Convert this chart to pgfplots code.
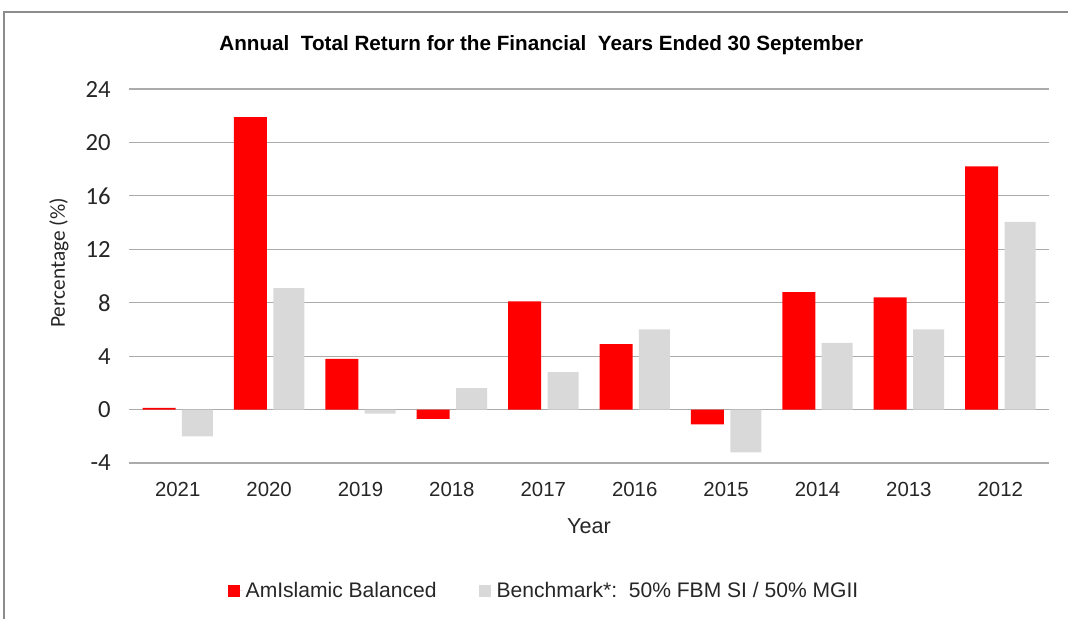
\documentclass[border=0pt]{standalone}
\usepackage{pgfplots}
\pgfplotsset{compat=1.18}
\usepackage{fontspec}
\setmainfont{Liberation Sans}
\newfontfamily\carlito{Carlito}
\definecolor{barred}{HTML}{FF0000}
\definecolor{bargray}{HTML}{D9D9D9}
\definecolor{gridgray}{HTML}{ABABAB}
\definecolor{framegray}{HTML}{8C8C8C}
\begin{document}
\begin{tikzpicture}
\path[use as bounding box] (0pt,0pt) rectangle (801pt,464.25pt);
\draw[framegray, line width=0.8pt] (3pt,0pt) -- (3pt,455.25pt) -- (801pt,455.25pt);
\begin{axis}[
  at={(99pt,117pt)}, anchor=south west,
  scale only axis, width=685.5pt, height=280.5pt,
  xmin=-0.5, xmax=9.5, ymin=-4, ymax=24,
  ytick={-4,0,4,8,12,16,20,24},
  xtick={0,1,2,3,4,5,6,7,8,9},
  xticklabels={2021,2020,2019,2018,2017,2016,2015,2014,2013,2012},
  axis line style={draw=none},
  ymajorgrids, grid style={gridgray, line width=0.9pt},
  x tick style={draw=none},
  y tick style={gridgray, line width=0.9pt},
  tick align=outside, major tick length=2pt,
  /pgf/number format/assume math mode=true,
  yticklabel style={font=\carlito\fontsize{18.5}{21}\selectfont, text=black!85, xshift=-10.5pt},
  xticklabel style={font=\fontsize{15.3}{18}\selectfont, text=black!85, yshift=-9pt},
  ybar=0pt,
  legend style={draw=none, at={(0.4515,-0.342)}, anchor=center,
    font=\fontsize{15.8}{19}\selectfont, text=black!85,
    /tikz/every even column/.append style={column sep=30pt},
    inner sep=0pt},
  legend columns=2,
  legend image code/.code={\path[#1, draw=none] (0pt,-4.5pt) rectangle (9pt,4.5pt);\path (0pt,0pt) -- (11pt,0pt);},
]
\addplot[fill=barred, draw=none, bar width=24.75pt, bar shift=-14pt] coordinates {
(0,0.13) (1,21.9) (2,3.8) (3,-0.7) (4,8.1) (5,4.9) (6,-1.1) (7,8.8) (8,8.4) (9,18.2)};
\addplot[fill=bargray, draw=none, bar width=23.25pt, bar shift=14.8pt] coordinates {
(0,-2.0) (1,9.1) (2,-0.3) (3,1.6) (4,2.8) (5,6.0) (6,-3.2) (7,5.0) (8,6.0) (9,14.05)};
\legend{AmIslamic Balanced, Benchmark*:\ \ 50\% FBM SI / 50\% MGII}
\end{axis}
\node[anchor=base, font=\bfseries\fontsize{15.5}{18}\selectfont] at (406pt,426.2pt) {Annual\ \ Total Return for the Financial\ \ Years Ended 30 September};
\node[anchor=base, font=\fontsize{16.2}{19}\selectfont, text=black!85] at (441.75pt,64.5pt) {Year};
\node[rotate=90, anchor=center, font=\carlito\fontsize{16}{19}\selectfont, text=black!85] at (44.25pt,267pt) {Percentage (\%)};
\end{tikzpicture}
\end{document}
